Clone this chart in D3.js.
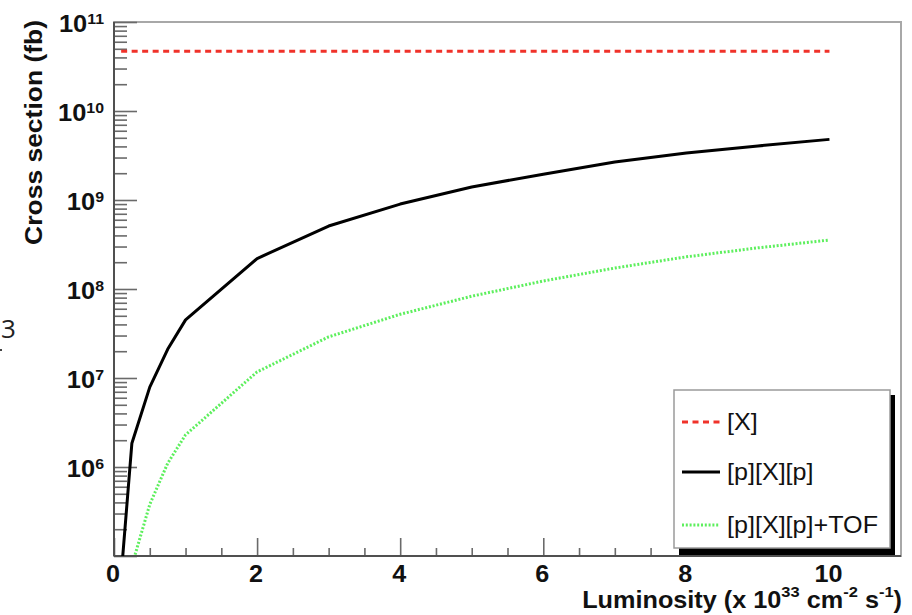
<!DOCTYPE html>
<html>
<head>
<meta charset="utf-8">
<script src="https://cdn.jsdelivr.net/npm/d3@7"></script>
<style>
  body { margin: 0; background: #fff; }
  svg { display: block; }
</style>
</head>
<body>
<svg id="chart" width="912" height="615"></svg>
<script>
// data
var lumi   = [0.1, 0.25, 0.5, 0.75, 1, 2, 3, 4, 5, 6, 7, 8, 9, 10];
var sigX   = [4.7e10, 4.7e10, 4.7e10, 4.7e10, 4.7e10, 4.7e10, 4.7e10, 4.7e10, 4.7e10, 4.7e10, 4.7e10, 4.7e10, 4.7e10, 4.7e10];
var sigPXP = [6e4, 1.85e6, 7.9e6, 2.1e7, 4.5e7, 2.2e8, 5.1e8, 9.0e8, 1.4e9, 1.95e9, 2.67e9, 3.37e9, 4.05e9, 4.8e9];
var sigTOF = [null, 7.8e4, 3.8e5, 1.1e6, 2.3e6, 1.17e7, 2.9e7, 5.2e7, 8.3e7, 1.23e8, 1.72e8, 2.3e8, 2.9e8, 3.55e8];
var xMajor = [0, 2, 4, 6, 8, 10];
var yMajor = [1e5, 1e6, 1e7, 1e8, 1e9, 1e10, 1e11];
var yLabelExp = [6, 7, 8, 9, 10, 11];
var legendNames = ['[X]', '[p][X][p]', '[p][X][p]+TOF'];

var svg = d3.select('#chart');
var L = 114, T = 22, R = 901, B = 556;
var fontB = "'Liberation Sans', Arial, Helvetica, sans-serif";

var x = d3.scaleLinear().domain([0, 11]).range([L, R]);
var y = d3.scaleLog().domain([1e5, 1e11]).range([B, T]);

// squeeze/stretch a text node horizontally so it is w px wide
function fitWidth(t, w) {
  var bw = t.node().getBBox().width;
  t.attr('transform', 'scale(' + (w / bw) + ',1)');
}

// frame
svg.append('rect')
  .attr('x', L).attr('y', T).attr('width', R - L).attr('height', B - T)
  .attr('fill', 'none').attr('stroke', '#a8a8a8').attr('stroke-width', 2);

// y ticks
var yMinor = [];
for (var e = 5; e < 11; e++) {
  for (var k = 2; k <= 9; k++) yMinor.push(k * Math.pow(10, e));
}
var gy = svg.append('g').attr('transform', 'translate(' + L + ',0)');
gy.append('g').call(d3.axisLeft(y).tickValues(yMinor).tickSize(-13).tickFormat(''))
  .call(function(g) { g.select('.domain').remove(); });
gy.append('g').call(d3.axisLeft(y).tickValues(yMajor).tickSize(-23).tickFormat(''))
  .call(function(g) { g.select('.domain').remove(); });
gy.selectAll('.tick line').attr('stroke', '#6a6a6a').attr('stroke-width', 1.6);

// x ticks
var xMinor = d3.range(0.5, 11, 0.5).filter(function(v) { return v % 2 !== 0; });
var gx = svg.append('g').attr('transform', 'translate(0,' + B + ')');
gx.append('g').call(d3.axisBottom(x).tickValues(xMinor).tickSize(-8).tickFormat(''))
  .call(function(g) { g.select('.domain').remove(); });
gx.append('g').call(d3.axisBottom(x).tickValues(xMajor).tickSize(-18).tickFormat(''))
  .call(function(g) { g.select('.domain').remove(); });
gx.selectAll('.tick line').attr('stroke', '#6a6a6a').attr('stroke-width', 1.6);

// axis lines
svg.append('line').attr('x1', L).attr('x2', L).attr('y1', T).attr('y2', B)
  .attr('stroke', '#505050').attr('stroke-width', 2);
svg.append('line').attr('x1', L).attr('x2', R).attr('y1', B).attr('y2', B)
  .attr('stroke', '#505050').attr('stroke-width', 2);

// curves
svg.append('clipPath').attr('id', 'clip').append('rect')
  .attr('x', L).attr('y', T).attr('width', R - L).attr('height', B - T);

function draw(vals, color, dash, width) {
  var line = d3.line()
    .defined(function(d, i) { return vals[i] != null; })
    .x(function(d) { return x(d); })
    .y(function(d, i) { return y(vals[i]); });
  svg.append('path').datum(lumi)
    .attr('clip-path', 'url(#clip)')
    .attr('d', line)
    .attr('fill', 'none')
    .attr('stroke', color)
    .attr('stroke-width', width)
    .attr('stroke-dasharray', dash)
    .attr('stroke-linejoin', 'round');
}
draw(sigX, '#f0322a', '6,4.5', 3);
draw(sigPXP, '#000', null, 3);
draw(sigTOF, '#5def5d', '2,1.8', 3);

// y labels
yLabelExp.forEach(function(p) {
  var g = svg.append('g').attr('transform', 'translate(104,' + (y(Math.pow(10, p)) + 10) + ')');
  var t = g.append('text')
    .attr('text-anchor', 'end')
    .attr('font-family', fontB).attr('font-weight', 'bold')
    .attr('font-size', 24).attr('fill', '#111')
    .attr('transform', 'scale(1.06,1)');
  t.append('tspan').text('10');
  t.append('tspan').attr('font-size', 15).attr('dy', -8).text(p);
});

// x labels
xMajor.forEach(function(v) {
  svg.append('g').attr('transform', 'translate(' + (x(v) - 1) + ',582)')
    .append('text')
    .attr('text-anchor', 'middle')
    .attr('font-family', fontB).attr('font-weight', 'bold')
    .attr('font-size', 24).attr('fill', '#111')
    .attr('transform', 'scale(1.05,1)')
    .text(v);
});

// axis titles
var gxt = svg.append('g').attr('transform', 'translate(902,608)');
var xt = gxt.append('text').attr('text-anchor', 'end')
  .attr('font-family', fontB).attr('font-weight', 'bold')
  .attr('font-size', 23).attr('fill', '#111');
xt.append('tspan').text('Luminosity (x 10');
xt.append('tspan').attr('font-size', 15).attr('dy', -11).text('33');
xt.append('tspan').attr('dy', 11).text(' cm');
xt.append('tspan').attr('font-size', 15).attr('dy', -11).text('-2');
xt.append('tspan').attr('dy', 11).text(' s');
xt.append('tspan').attr('font-size', 15).attr('dy', -11).text('-1');
xt.append('tspan').attr('dy', 11).text(')');
fitWidth(xt, 320);

var gyt = svg.append('g').attr('transform', 'translate(42,20) rotate(-90)');
var yt = gyt.append('text')
  .attr('text-anchor', 'end')
  .attr('font-family', fontB).attr('font-weight', 'bold')
  .attr('font-size', 23).attr('fill', '#111')
  .text('Cross section (fb)');
fitWidth(yt, 225);

// legend
var lg = svg.append('g');
lg.append('rect').attr('x', 679).attr('y', 395).attr('width', 216).attr('height', 160).attr('fill', '#000');
lg.append('rect').attr('x', 674).attr('y', 390).attr('width', 216).attr('height', 158)
  .attr('fill', '#fff').attr('stroke', '#9a9a9a').attr('stroke-width', 1.5);
var legStyles = [
  { color: '#f0322a', dash: '6,4.5', y: 422 },
  { color: '#000', dash: null, y: 472 },
  { color: '#5def5d', dash: '2,1.8', y: 525 }
];
var legScale = 1;
legendNames.forEach(function(name, i) {
  var s = legStyles[i];
  lg.append('line').attr('x1', 682).attr('x2', 720).attr('y1', s.y).attr('y2', s.y)
    .attr('stroke', s.color).attr('stroke-width', 3).attr('stroke-dasharray', s.dash);
  var t = lg.append('g').attr('transform', 'translate(727,' + (s.y + 8) + ')')
    .append('text')
    .attr('font-family', fontB).attr('font-size', 23).attr('fill', '#111')
    .text(name);
  if (i === legendNames.length - 1) legScale = 151 / t.node().getBBox().width;
});
lg.selectAll('text').attr('transform', 'scale(' + legScale + ',1)');

// stray fragment at the left edge of the picture
svg.append('text').attr('x', 1).attr('y', 338)
  .attr('font-family', "'Open Sans', sans-serif").attr('font-size', 26).attr('fill', '#222')
  .text('3');
svg.append('line').attr('x1', 0).attr('x2', 2).attr('y1', 350).attr('y2', 350)
  .attr('stroke', '#444').attr('stroke-width', 2);
</script>
</body>
</html>
